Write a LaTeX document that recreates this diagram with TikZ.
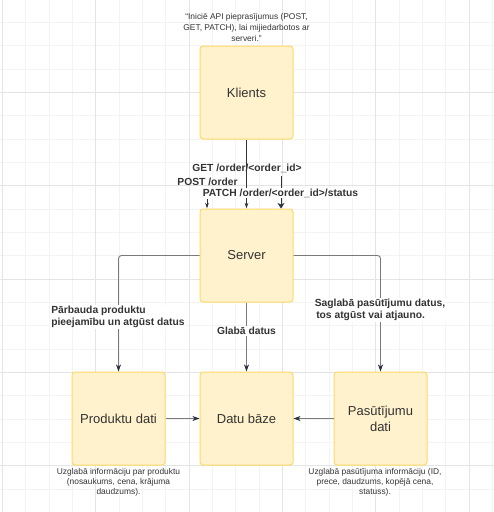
\documentclass[tikz,border=0pt]{standalone}
\usepackage{fontspec}
\setmainfont{Liberation Sans}
\usetikzlibrary{arrows.meta}
\definecolor{boxfill}{HTML}{FFF2CC}
\definecolor{boxdraw}{HTML}{FFD966}
\definecolor{txt}{HTML}{333333}
\definecolor{gridminor}{HTML}{F3F3F3}
\definecolor{gridmajor}{HTML}{E4E4E4}
\definecolor{edgecol}{HTML}{7A7A7A}
\definecolor{tipcol}{HTML}{2B3240}
\begin{document}
\begin{tikzpicture}[x=1pt,y=-1pt,
  box/.style={draw=boxdraw, fill=boxfill, line width=1pt, rounded corners=3pt,
    minimum width=93pt, minimum height=93pt, inner sep=0pt,
    font=\fontsize{13}{16}\selectfont, text=txt, align=center},
  elabel/.style={font=\bfseries\fontsize{10.3}{12}\selectfont, text=txt, align=left, inner sep=1pt},
  note/.style={font=\fontsize{8.4}{10.3}\selectfont, text=txt, align=center, inner sep=0pt},
  conn/.style={draw=edgecol, line width=0.9pt, -{Stealth[length=7pt,width=5pt,inset=2pt,color=tipcol]}},
  connsmall/.style={draw=txt, line width=0.9pt, -{Stealth[length=5.5pt,width=3.6pt,inset=1.5pt,color=tipcol]}},
  connbig/.style={draw=txt, line width=0.9pt, -{Stealth[length=5.5pt,width=7pt,inset=1.5pt,color=tipcol]}},
]
\useasboundingbox (0,0) rectangle (494,512);
\fill[white] (0,0) rectangle (494,512);
% grid
\foreach \k in {0,...,21} {
  \pgfmathsetmacro{\gx}{2.4+23.333*\k}
  \draw[gridminor, line width=0.8pt] (\gx,0) -- (\gx,512);
}
\foreach \k in {1,...,21} {
  \pgfmathsetmacro{\gy}{-1+23.333*\k}
  \draw[gridminor, line width=0.8pt] (0,\gy) -- (494,\gy);
}
\foreach \k in {0,4,8,12,16,20} {
  \pgfmathsetmacro{\gx}{2.4+23.333*\k}
  \draw[gridmajor, line width=0.8pt] (\gx,0) -- (\gx,512);
}
\foreach \k in {4,8,12,16,20} {
  \pgfmathsetmacro{\gy}{-1+23.333*\k}
  \draw[gridmajor, line width=0.8pt] (0,\gy) -- (494,\gy);
}

% boxes
\node[box] (kl) at (246.5,92.5) {Klients};
\node[box] (srv) at (246.5,255.5) {Server};
\node[box] (prod) at (118.5,418.5) {Produktu dati};
\node[box] (db) at (246.5,418.5) {Datu bāze};
\node[box] (pas) at (380.5,418.5) {Pasūtījumu\\dati};

% notes
\node[note, font=\fontsize{8.4}{11}\selectfont] (ntop) at (246.5,27.5) {“Iniciē API pieprasījumus (POST,\\GET, PATCH), lai mijiedarbotos ar\\serveri.”};
\node[note] (nprod) at (118.5,482.5) {Uzglabā informāciju par produktu\\(nosaukums, cena, krājuma\\daudzums).};
\node[note] (npas) at (375,482.5) {Uzglabā pasūtījuma informāciju (ID,\\prece, daudzums, kopējā cena,\\statuss).};

% Klients -> Server
\node[elabel] (lget) at (247,168) {GET /order/<order\_id>};
\node[elabel] (lpost) at (207.5,182) {POST /order};
\coordinate (p1) at (207,199);
\coordinate (p2) at (281,176);
\draw[connsmall] (kl.south) -- (srv.north);
\draw[connsmall] (p1) -- (p1 |- srv.north);
\draw[connbig] (p2) -- (p2 |- srv.north);
\node[elabel, fill=white, inner sep=0.5pt] (lpatch) at (280.5,193) {PATCH /order/<order\_id>/status};

% Server -> others
\draw[conn, rounded corners=3pt] (srv.west) -| (prod.north);
\draw[conn, rounded corners=3pt] (srv.east) -| (pas.north);
\draw[conn] (srv.south) -- (db.north);
\node[elabel, fill=white] (lprod) at (118,317) {Pārbauda produktu\\pieejamību un atgūst datus};
\node[elabel, fill=white] (lpas) at (380,310) {Saglabā pasūtījumu datus,\\\hspace*{1.5pt}tos atgūst vai atjauno.};
\node[elabel, fill=white] (ldb) at (246.5,331) {Glabā datus};

% into database
\draw[conn] (prod.east) -- (db.west);
\draw[conn] (pas.west) -- (db.east);
\end{tikzpicture}
\end{document}
